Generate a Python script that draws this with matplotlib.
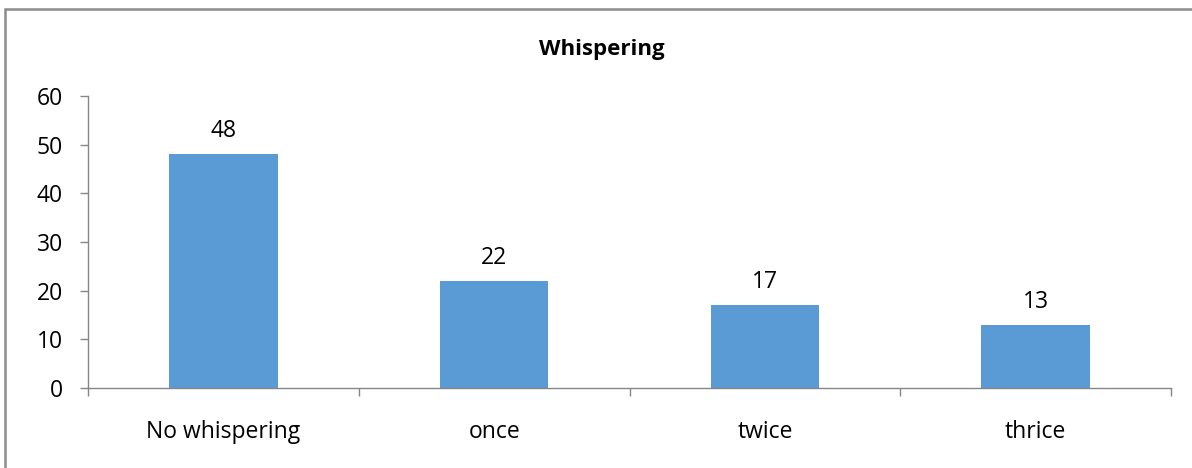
import numpy as np
import matplotlib
matplotlib.use('Agg')
import matplotlib.pyplot as plt
import matplotlib.patches as patches
from matplotlib.ticker import FixedLocator

# data
categories = ['No whispering', 'once', 'twice', 'thrice']
counts = [48, 22, 17, 13]
y_ticks = [0, 10, 20, 30, 40, 50, 60]

plt.rcParams['font.family'] = ['Open Sans', 'DejaVu Sans']
fs = 16.5

fig = plt.figure(figsize=(11.92, 4.68), dpi=100)
ax = fig.add_axes([88/1192, 1 - 388/468, (1171 - 88)/1192, (388 - 96)/468])

# gray frame around the chart (goes past right and bottom edge)
frame = patches.Rectangle((5/1192, -0.1), 1.2, 1 - 9/468 + 0.1,
                          transform=fig.transFigure, fill=False,
                          edgecolor='#8c8c8c', linewidth=1.8)
fig.patches.append(frame)

x = np.arange(len(categories))
bars = ax.bar(x, counts, width=0.4, color='#5b9bd5', zorder=2)

for b, v in zip(bars, counts):
    ax.annotate(str(v), (b.get_x() + b.get_width()/2, v),
                xytext=(0, 8), textcoords='offset points',
                ha='center', va='bottom', fontsize=fs, color='black')

ax.set_xlim(-0.5, len(categories) - 0.5)
ax.set_ylim(0, 60)
ax.set_yticks(y_ticks)

ax.set_xticks(x)
ax.set_xticklabels(categories)
ax.xaxis.set_minor_locator(FixedLocator(np.arange(-0.5, len(categories), 1)))
ax.tick_params(axis='x', which='major', length=0, pad=23, labelsize=fs)
ax.tick_params(axis='x', which='minor', length=6, color='#868686', width=1)
ax.tick_params(axis='y', length=6, color='#868686', width=1, pad=12,
               labelsize=fs)

for s in ['top', 'right']:
    ax.spines[s].set_visible(False)
for s in ['left', 'bottom']:
    ax.spines[s].set_color('#868686')
    ax.spines[s].set_linewidth(1)

fig.text(602/1192, 1 - 50/468, 'Whispering', ha='center', va='center',
         fontsize=16, fontweight='bold')

fig.savefig('out.png', dpi=100)
